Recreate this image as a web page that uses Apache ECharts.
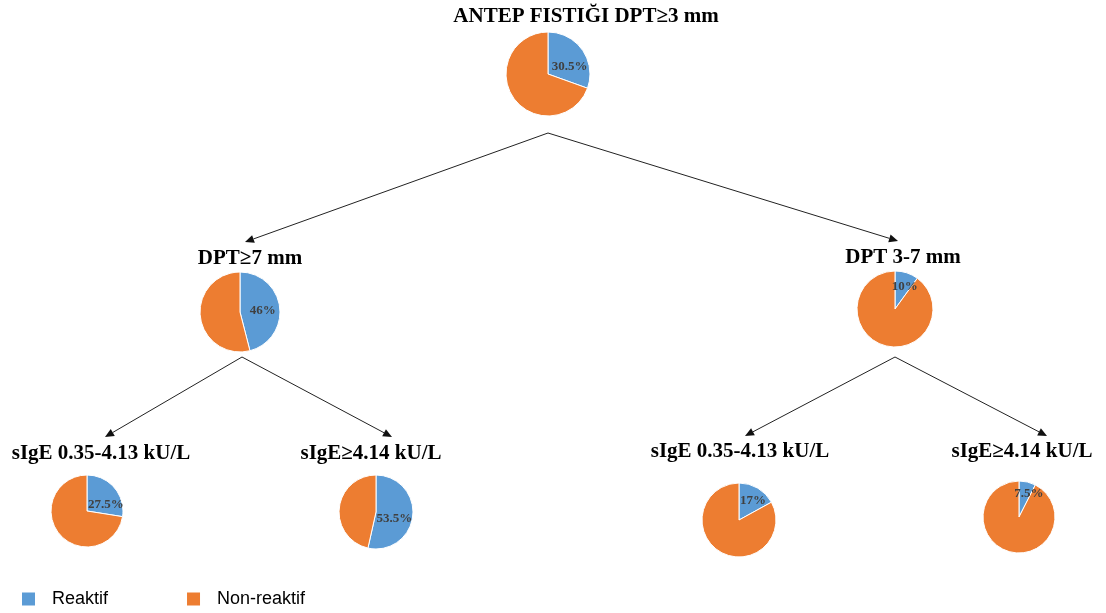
<!DOCTYPE html>
<html>
<head>
<meta charset="utf-8">
<script src="https://cdn.jsdelivr.net/npm/echarts@6/dist/echarts.min.js"></script>
<style>
  html, body { margin: 0; padding: 0; background: #fff; }
  #chart { width: 1106px; height: 613px; }
</style>
</head>
<body>
<div id="chart"></div>
<script>
// Decision tree nodes: title and share of "Reaktif" (%) at each node
const nodeTitles = [
  'ANTEP FISTIĞI DPT≥3 mm',
  'DPT≥7 mm',
  'DPT 3-7 mm',
  'sIgE 0.35-4.13 kU/L',
  'sIgE≥4.14 kU/L',
  'sIgE 0.35-4.13 kU/L',
  'sIgE≥4.14 kU/L'
];
const reaktifPct = [30.5, 46, 10, 27.5, 53.5, 17, 7.5];
const seriesNames = ['Reaktif', 'Non-reaktif'];

// Layout of each node: pie centre, radius, title centre, label nudge
const layout = [
  { cx: 548, cy: 74,  r: 42, tx: 586, ty: 17,  off: [2, 6] },
  { cx: 240, cy: 312, r: 40, tx: 250, ty: 259, off: [0, 2] },
  { cx: 895, cy: 309, r: 38, tx: 903, ty: 258, off: [3, -1] },
  { cx: 87,  cy: 511, r: 36, tx: 101, ty: 454, off: [3, 7] },
  { cx: 376, cy: 512, r: 37, tx: 371, ty: 454, off: [-3, 4] },
  { cx: 739, cy: 520, r: 37, tx: 740, ty: 452, off: [3, -1] },
  { cx: 1019, cy: 517, r: 36, tx: 1022, ty: 452, off: [5, -3] }
];
// Tree edges: [from point, to point]
const edges = [
  [[548, 133], [245, 242]],
  [[548, 133], [898, 241]],
  [[242, 357], [105, 437]],
  [[242, 357], [392, 437]],
  [[895, 357], [745, 436]],
  [[895, 357], [1047, 436]]
];

const colors = ['#5B9BD5', '#ED7D31'];

const series = reaktifPct.map((v, i) => ({
  type: 'pie',
  name: nodeTitles[i],
  center: [layout[i].cx, layout[i].cy],
  radius: [0, layout[i].r],
  startAngle: 90,
  clockwise: true,
  silent: true,
  animation: false,
  itemStyle: { borderColor: '#fff', borderWidth: 1 },
  label: {
    show: true,
    position: 'inside',
    offset: layout[i].off,
    fontFamily: 'Liberation Serif',
    fontWeight: 'bold',
    fontSize: 13,
    color: '#404040',
    formatter: p => p.dataIndex === 0 ? p.value + '%' : ''
  },
  labelLine: { show: false },
  data: [
    { name: seriesNames[0], value: v },
    { name: seriesNames[1], value: +(100 - v).toFixed(1) }
  ]
}));

const graphics = [];
nodeTitles.forEach((t, i) => {
  graphics.push({
    type: 'text',
    x: layout[i].tx, y: layout[i].ty,
    style: {
      text: t,
      align: 'center', verticalAlign: 'middle',
      font: 'bold 21px "Liberation Serif"',
      fill: '#000'
    }
  });
});
edges.forEach(([a, b]) => {
  const dx = b[0] - a[0], dy = b[1] - a[1];
  const len = Math.hypot(dx, dy);
  const ux = dx / len, uy = dy / len;
  const hl = 9, hw = 4;
  const bx = b[0] - ux * hl, by = b[1] - uy * hl;
  graphics.push({
    type: 'line',
    shape: { x1: a[0], y1: a[1], x2: bx, y2: by },
    style: { stroke: '#222', lineWidth: 1 }
  });
  graphics.push({
    type: 'polygon',
    shape: { points: [[b[0], b[1]], [bx - uy * hw, by + ux * hw], [bx + uy * hw, by - ux * hw]] },
    style: { fill: '#111' }
  });
});

const chart = echarts.init(document.getElementById('chart'));
chart.setOption({
  backgroundColor: '#fff',
  color: colors,
  animation: false,
  legend: {
    data: seriesNames,
    left: 20,
    top: 590,
    padding: 0,
    icon: 'rect',
    itemWidth: 15,
    itemHeight: 15,
    itemGap: 77,
    selectedMode: false,
    textStyle: {
      fontFamily: 'Liberation Sans',
      fontSize: 18,
      color: '#000',
      padding: [0, 0, 0, 11]
    }
  },
  series: series,
  graphic: graphics
});
</script>
</body>
</html>
